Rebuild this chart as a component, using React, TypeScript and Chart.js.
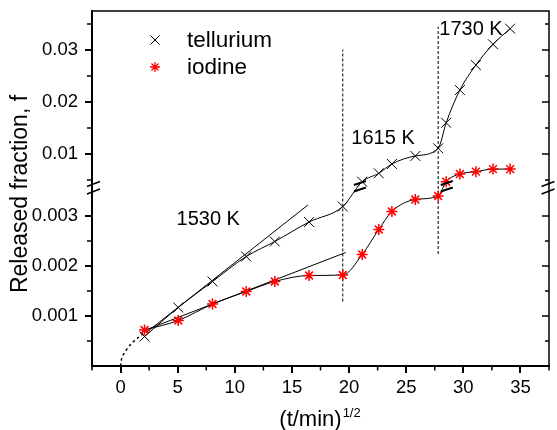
import React, { useEffect, useRef } from 'react';
import { Chart, registerables } from 'chart.js';

Chart.register(...registerables);

// ---- data ----
const timeX = [2.1, 5.05, 8.05, 11.0, 13.5, 16.5, 19.45, 21.15, 22.6, 23.75, 25.8, 27.8, 28.5, 29.7, 31.1, 32.6, 34.1];
const tellurium = [0.00059, 0.00117, 0.00169, 0.00219, 0.00249, 0.00288, 0.00319, 0.00467, 0.00629, 0.00808, 0.00962, 0.0111, 0.016, 0.0223, 0.0271, 0.0311, 0.0341];
const iodine = [0.00072, 0.00091, 0.00124, 0.00149, 0.00169, 0.00181, 0.00182, 0.00223, 0.00273, 0.00309, 0.00333, 0.0034, 0.00467, 0.00615, 0.0066, 0.0071, 0.0071];

const telluriumFitX = [2.3, 16.4];
const telluriumFitY = [0.00068, 0.00322];
const iodineFitX = [2.3, 19.7];
const iodineFitY = [0.00073, 0.00227];

const originX = [0, 0.06, 0.25, 0.5, 1.0, 1.5, 2.07];
const originY = [0, 0.00011, 0.00023, 0.00032, 0.00046, 0.00056, 0.00066];

const stepX = [19.45, 27.8];
const stepYFrom = [0.00129, 0.00224];
const stepYTo = [0.0301, 0.0345];

const tempLabels = ['1530 K', '1615 K', '1730 K'];
const tempLabelX = [4.9, 20.2, 27.9];
const tempLabelY = [0.00282, 0.0119, 0.0329];

const curveBreakX = [20.95, 28.55];

const xTicks = [0, 5, 10, 15, 20, 25, 30, 35];
const xMinorTicks = [-2.5, 2.5, 7.5, 12.5, 17.5, 22.5, 27.5, 32.5, 37.5];
const yTicks = [0.001, 0.002, 0.003, 0.01, 0.02, 0.03];
const yTickLabels = ['0.001', '0.002', '0.003', '0.01', '0.02', '0.03'];
const yMinorTicks = [0.0005, 0.0015, 0.0025, 0.005, 0.015, 0.025, 0.035];

const seriesNames = ['tellurium', 'iodine'];

// ---- broken y axis mapping ----
const LOW_LIMIT = 0.0035; // values up to this belong to the lower panel
const LOW_BREAK = 0.00356; // lower-panel value at the break
const UP_BREAK = 0.00346; // upper-panel value at the break
const UP_RATIO = 0.104; // upper panel compression
const Y_TOP = 0.0375;
const toV = (y: number) => (y <= LOW_LIMIT ? y : LOW_BREAK + (y - UP_BREAK) * UP_RATIO);

const FONT = "'Liberation Sans', Arial, Helvetica, sans-serif";
const NARROW = "'Liberation Sans Narrow', 'Liberation Sans', Arial, sans-serif";

const pts = (xs: number[], ys: number[]) => xs.map((x, i) => ({ x, y: toV(ys[i]) }));

const overlay = {
  id: 'overlay',
  afterDraw(chart: any) {
    const { ctx, chartArea: a, scales } = chart;
    const xs = scales.x;
    const ys = scales.y;
    ctx.save();
    ctx.strokeStyle = '#000';
    ctx.fillStyle = '#000';

    // frame top/right
    ctx.lineWidth = 1.5;
    ctx.beginPath();
    ctx.moveTo(a.left, a.top);
    ctx.lineTo(a.right, a.top);
    ctx.lineTo(a.right, a.bottom);
    ctx.stroke();

    // minor ticks + right inward ticks
    ctx.lineWidth = 1.5;
    ctx.beginPath();
    xMinorTicks.forEach((v) => {
      const p = xs.getPixelForValue(v);
      ctx.moveTo(p, a.bottom);
      ctx.lineTo(p, a.bottom + 4.5);
    });
    yMinorTicks.forEach((v) => {
      const p = ys.getPixelForValue(toV(v));
      ctx.moveTo(a.left, p);
      ctx.lineTo(a.left - 5, p);
      ctx.moveTo(a.right, p);
      ctx.lineTo(a.right - 4, p);
    });
    yTicks.forEach((v) => {
      const p = ys.getPixelForValue(toV(v));
      ctx.moveTo(a.right, p);
      ctx.lineTo(a.right - 7, p);
    });
    ctx.stroke();

    // axis break marks
    const bp = ys.getPixelForValue(LOW_BREAK);
    const slash = (cx: number, cy: number, hw: number, rise: number) => {
      ctx.moveTo(cx - hw, cy + rise);
      ctx.lineTo(cx + hw, cy - rise);
    };
    ctx.lineWidth = 1.5;
    ctx.beginPath();
    [a.left + 1.5, a.right - 1].forEach((cx) => {
      slash(cx, bp - 4, 6.5, 2.5);
      slash(cx, bp + 3.5, 6.5, 2.5);
    });
    ctx.stroke();

    // curve break marks
    ctx.lineWidth = 2;
    ctx.beginPath();
    curveBreakX.forEach((v) => {
      const cx = xs.getPixelForValue(v);
      slash(cx, bp - 5, 6, 2);
      slash(cx, bp + 1.5, 6, 2);
    });
    ctx.stroke();

    // temperature labels
    ctx.font = `20px ${FONT}`;
    ctx.textAlign = 'left';
    ctx.textBaseline = 'alphabetic';
    tempLabels.forEach((t, i) => {
      ctx.fillText(t, xs.getPixelForValue(tempLabelX[i]), ys.getPixelForValue(toV(tempLabelY[i])));
    });

    // legend
    const lx = a.left + 63;
    const ly1 = a.top + 29;
    const ly2 = a.top + 56;
    ctx.lineWidth = 1;
    ctx.strokeStyle = '#000';
    ctx.beginPath();
    const r1 = 4.5;
    ctx.moveTo(lx - r1, ly1 - r1);
    ctx.lineTo(lx + r1, ly1 + r1);
    ctx.moveTo(lx - r1, ly1 + r1);
    ctx.lineTo(lx + r1, ly1 - r1);
    ctx.stroke();
    ctx.strokeStyle = '#ff0000';
    ctx.lineWidth = 1.3;
    ctx.beginPath();
    const r2 = 5;
    const d2 = r2 * Math.SQRT1_2;
    ctx.moveTo(lx - r2, ly2);
    ctx.lineTo(lx + r2, ly2);
    ctx.moveTo(lx, ly2 - r2);
    ctx.lineTo(lx, ly2 + r2);
    ctx.moveTo(lx - d2, ly2 - d2);
    ctx.lineTo(lx + d2, ly2 + d2);
    ctx.moveTo(lx - d2, ly2 + d2);
    ctx.lineTo(lx + d2, ly2 - d2);
    ctx.stroke();
    ctx.font = `22.5px ${FONT}`;
    ctx.fillText(seriesNames[0], lx + 32, ly1 + 6.5);
    ctx.fillText(seriesNames[1], lx + 32, ly2 + 6.5);

    // y title
    ctx.save();
    ctx.translate(27, 194);
    ctx.rotate(-Math.PI / 2);
    ctx.font = `23px ${FONT}`;
    ctx.textAlign = 'center';
    ctx.fillText('Released fraction, f', 0, 0);
    ctx.restore();

    // x title with superscript
    const main = '(t/min)';
    const sup = '1/2';
    ctx.font = `22px ${FONT}`;
    const w1 = ctx.measureText(main).width;
    ctx.font = `13px ${FONT}`;
    const w2 = ctx.measureText(sup).width;
    const sx = (a.left + a.right) / 2 - (w1 + w2) / 2 - 1;
    ctx.font = `22px ${FONT}`;
    ctx.fillText(main, sx, 426);
    ctx.font = `13px ${FONT}`;
    ctx.fillText(sup, sx + w1 + 1, 416.5);

    ctx.restore();
  },
};

const noPad = (s: any) => {
  s.paddingLeft = 0;
  s.paddingRight = 0;
  s.paddingTop = 0;
  s.paddingBottom = 0;
};

export default function App() {
  const ref = useRef<HTMLCanvasElement | null>(null);

  useEffect(() => {
    const canvas = ref.current;
    if (!canvas) return;
    const lineBase = { pointRadius: 0, pointHoverRadius: 0, fill: false, borderColor: '#000', showLine: true };
    const chart = new Chart(canvas, {
      type: 'line',
      data: {
        datasets: [
          {
            label: seriesNames[1],
            data: pts(timeX, iodine),
            borderColor: '#000',
            borderWidth: 1,
            pointStyle: 'star',
            pointRadius: 5.5,
            pointHoverRadius: 5.5,
            pointBorderColor: '#ff0000',
            pointBackgroundColor: '#ff0000',
            pointBorderWidth: 1.5,
            cubicInterpolationMode: 'monotone',
            fill: false,
          },
          {
            label: seriesNames[0],
            data: pts(timeX, tellurium),
            borderColor: '#000',
            borderWidth: 1,
            pointStyle: 'crossRot',
            pointRadius: 7,
            pointHoverRadius: 7,
            pointBorderColor: '#000',
            pointBorderWidth: 1,
            cubicInterpolationMode: 'monotone',
            fill: false,
          },
          { ...lineBase, label: 'fitTe', data: pts(telluriumFitX, telluriumFitY), borderWidth: 1 },
          { ...lineBase, label: 'fitI', data: pts(iodineFitX, iodineFitY), borderWidth: 1 },
          {
            ...lineBase,
            label: 'origin',
            data: pts(originX, originY),
            borderWidth: 1.5,
            borderDash: [2.5, 3],
            cubicInterpolationMode: 'monotone',
          },
          ...stepX.map((sx, i) => ({
            ...lineBase,
            label: 'step' + i,
            data: pts([sx, sx], [stepYFrom[i], stepYTo[i]]),
            borderWidth: 1,
            borderDash: [3, 2],
          })),
        ],
      },
      options: {
        animation: false,
        responsive: false,
        devicePixelRatio: 1,
        events: [],
        layout: { padding: { top: 11, right: 1, left: 0, bottom: 0 } },
        plugins: { legend: { display: false }, tooltip: { enabled: false }, title: { display: false } },
        scales: {
          x: {
            type: 'linear',
            min: -2.5,
            max: 37.5,
            afterBuildTicks: (s: any) => {
              s.ticks = xTicks.map((v) => ({ value: v }));
            },
            afterFit: (s: any) => {
              s.height = 64;
              noPad(s);
            },
            grid: { drawOnChartArea: false, drawTicks: true, tickLength: 7, color: '#000', lineWidth: 2 },
            border: { display: true, color: '#000', width: 2 },
            ticks: {
              color: '#000',
              font: { family: NARROW, size: 18.5 },
              padding: 4,
              maxRotation: 0,
              autoSkip: false,
              callback: (v: any) => String(v),
            },
          },
          y: {
            type: 'linear',
            min: 0,
            max: toV(Y_TOP),
            afterBuildTicks: (s: any) => {
              s.ticks = yTicks.map((v) => ({ value: toV(v) }));
            },
            afterFit: (s: any) => {
              s.width = 92;
              noPad(s);
            },
            grid: { drawOnChartArea: false, drawTicks: true, tickLength: 7, color: '#000', lineWidth: 2 },
            border: { display: true, color: '#000', width: 2 },
            ticks: {
              color: '#000',
              font: { family: NARROW, size: 18.5 },
              padding: 7,
              autoSkip: false,
              callback: (_v: any, i: number) => yTickLabels[i],
            },
          },
        },
      },
      plugins: [overlay],
    } as any);
    return () => chart.destroy();
  }, []);

  return (
    <div style={{ position: 'absolute', left: 0, top: 0, width: 557, height: 430, background: '#fff' }}>
      <canvas ref={ref} width={557} height={430} style={{ display: 'block' }} />
    </div>
  );
}
